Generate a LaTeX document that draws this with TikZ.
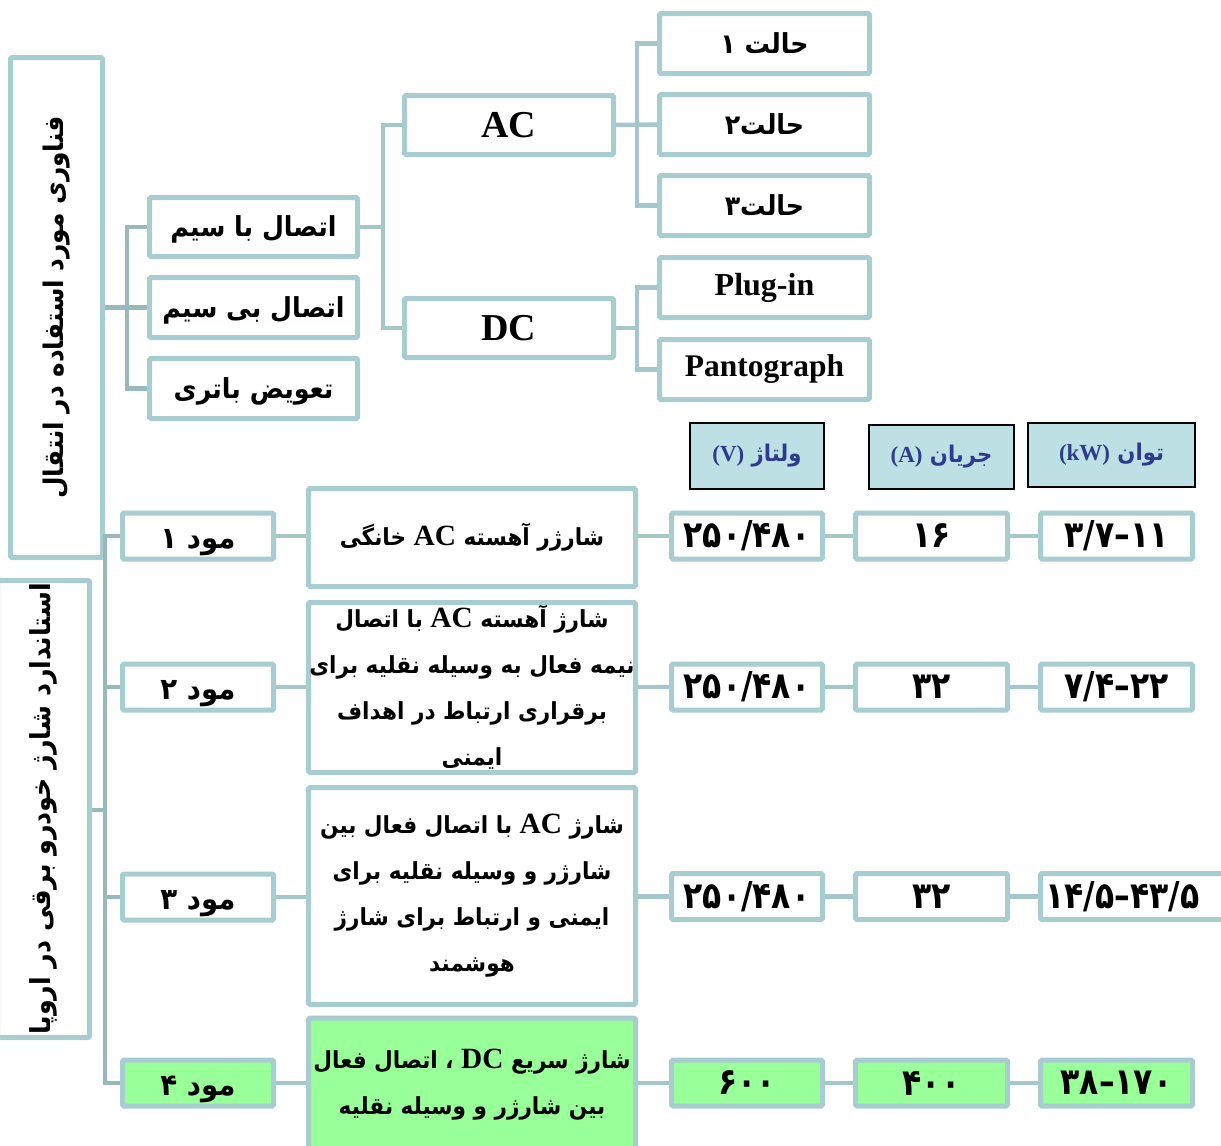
\documentclass[tikz,border=0pt]{standalone}
\usepackage{fontspec}
\setmainfont{Liberation Serif}
\newfontfamily\fa[Script=Arabic,FakeStretch=0.92]{DejaVu Sans}
\newfontfamily\fanum[Script=Arabic,FakeStretch=0.85]{DejaVu Sans}
\newfontfamily\latbig[Scale=1.25]{Liberation Serif}
\TeXXeTstate=1
% right-to-left Persian line, Latin runs inside
\newcommand\rl[1]{{\fa\bfseries\beginR #1\endR}}
\newcommand\lat[1]{{\rmfamily\bfseries #1}}
\newcommand\latb[1]{{\latbig\bfseries #1}}
\definecolor{boxc}{HTML}{A8CDD1}
\definecolor{linec}{HTML}{A3C7CB}
\definecolor{trunkc}{HTML}{98B8BC}
\definecolor{headfill}{HTML}{BCE0E4}
\definecolor{headtext}{HTML}{2E3A8E}
\definecolor{greenfill}{HTML}{99FF99}
\tikzset{
  box/.style={draw=boxc, line width=5pt, fill=white, rounded corners=1.5pt,
    inner sep=0pt, align=center, text=black},
  gbox/.style={box, fill=greenfill},
  head/.style={draw=black, line width=1.8pt, fill=headfill, inner sep=0pt,
    align=center, text=headtext, font=\fontsize{23}{28}\selectfont},
  conn/.style={draw=linec, line width=4.5pt},
  trunk/.style={draw=trunkc, line width=4.5pt},
  fsmall/.style={font=\fontsize{27.5}{32}\selectfont, text height=22pt, text depth=3pt},
  fmode/.style={font=\fontsize{30}{34}\selectfont, text height=25pt, text depth=1pt},
  desc/.style={font=\fontsize{23.5}{46}\selectfont},
  val/.style={box, minimum height=46pt, font=\fanum\bfseries\fontsize{37}{40}\selectfont},
}
\begin{document}
\begin{tikzpicture}[x=1pt,y=-1pt]
\useasboundingbox (0,0) rectangle (1221,1146);

% ---------- charging technology tree ----------
\node[box, minimum width=92pt, minimum height=500pt] (tech) at (56.5,307.5)
  {\rotatebox{90}{\fontsize{27}{30}\selectfont\rl{فناوری مورد استفاده در انتقال}}};

\node[box, fsmall, minimum width=208pt, minimum height=59pt] (wired) at (253.5,227)
  {\rl{اتصال با سیم}};
\node[box, fsmall, minimum width=208pt, minimum height=60pt] (wireless) at (253.5,307.5)
  {\rl{اتصال بی سیم}};
\node[box, fsmall, minimum width=208pt, minimum height=60pt] (swap) at (253.5,388.5)
  {\rl{تعویض باتری}};

\node[box, minimum width=209pt, minimum height=59pt, font=\fontsize{38}{40}\selectfont] (ac) at (509,125)
  {\lat{AC}};
\node[box, minimum width=209pt, minimum height=59pt, font=\fontsize{38}{40}\selectfont] (dc) at (509,328)
  {\lat{DC}};

\node[box, fsmall, minimum width=210pt, minimum height=60pt] (h1) at (764.5,43.5)
  {\rl{حالت ۱}};
\node[box, fsmall, minimum width=210pt, minimum height=60pt] (h2) at (764.5,124.5)
  {\rl{حالت۲}};
\node[box, fsmall, minimum width=210pt, minimum height=60pt] (h3) at (764.5,205.5)
  {\rl{حالت۳}};
\node[box, minimum width=210pt, minimum height=60pt, font=\fontsize{32}{34}\selectfont] (plug) at (764.5,287.5)
  {\lat{Plug-in}};
\node[box, minimum width=210pt, minimum height=60pt, font=\fontsize{31.5}{34}\selectfont] (panto) at (764.5,369.5)
  {\lat{Pantograph}};

\coordinate (j1) at (127,0);
\coordinate (j2) at (383,0);
\coordinate (j3) at (637,0);
\draw[trunk] (tech.east |- wireless.west) -- (wireless.west);
\draw[trunk] (wired.west) -| (j1 |- swap.west) -- (swap.west);
\draw[conn] (wired.east) -- (j2 |- wired.east);
\draw[conn] (ac.west) -| (j2 |- dc.west) -- (dc.west);
\draw[conn] (ac.east) -- (h2.west);
\draw[conn] (h1.west) -| (j3 |- h3.west) -- (h3.west);
\draw[conn] (dc.east) -- (j3 |- dc.east);
\draw[conn] (plug.west) -| (j3 |- panto.west) -- (panto.west);

% ---------- European charging modes ----------
\node[box, minimum width=92pt, minimum height=457pt] (std) at (43.5,809)
  {\rotatebox{90}{\fontsize{27.5}{30}\selectfont\rl{استاندارد شارژ خودرو برقی در اروپا}}};

\node[head, minimum width=134pt, minimum height=66pt] (hv) at (757,456)
  {\rl{ولتاژ \lat{(V)}}};
\node[head, minimum width=145pt, minimum height=64pt] (ha) at (941.5,457)
  {\rl{جریان \lat{(A)}}};
\node[head, minimum width=167pt, minimum height=64pt] (hp) at (1111.5,455)
  {\rl{توان \lat{(kW)}}};

% mode labels
\node[box, fmode, minimum width=151pt, minimum height=46pt] (m1) at (198,536)
  {\rl{مود ۱}};
\node[box, fmode, minimum width=151pt, minimum height=46pt] (m2) at (198,687)
  {\rl{مود ۲}};
\node[box, fmode, minimum width=151pt, minimum height=46pt] (m3) at (198,897)
  {\rl{مود ۳}};
\node[gbox, fmode, minimum width=151pt, minimum height=46pt] (m4) at (198,1083)
  {\rl{مود ۴}};

% descriptions
\node[box, desc, minimum width=327pt, minimum height=98pt] (d1) at (472,537.5)
  {\rl{شارژر آهسته \latb{AC} خانگی}};
\node[box, desc, minimum width=327pt, minimum height=170pt] (d2) at (472,687.5)
  {\rl{شارژ آهسته \latb{AC} با اتصال}\\
   \rl{نیمه فعال به وسیله نقلیه برای}\\
   \rl{برقراری ارتباط در اهداف}\\
   \rl{ایمنی}};
\node[box, desc, minimum width=327pt, minimum height=217pt] (d3) at (472,896)
  {\rl{شارژ \latb{AC} با اتصال فعال بین}\\
   \rl{شارژر و وسیله نقلیه برای}\\
   \rl{ایمنی و ارتباط برای شارژ}\\
   \rl{هوشمند}};
\node[gbox, desc, minimum width=327pt, minimum height=134pt] (d4) at (472,1085)
  {\rl{شارژ سریع \latb{DC} ، اتصال فعال}\\
   \rl{بین شارژر و وسیله نقلیه}};

% values: voltage, current, power
\node[val, minimum width=151pt] (v1) at (747,536) {۲۵۰/۴۸۰};
\node[val, minimum width=152pt] (a1) at (931.5,536) {۱۶};
\node[val, minimum width=152pt] (p1) at (1116.5,536) {۱۱–۳/۷};
\node[val, minimum width=151pt] (v2) at (747,687) {۲۵۰/۴۸۰};
\node[val, minimum width=152pt] (a2) at (931.5,687) {۳۲};
\node[val, minimum width=152pt] (p2) at (1116.5,687) {۲۲–۷/۴};
\node[val, minimum width=151pt] (v3) at (747,896.5) {۲۵۰/۴۸۰};
\node[val, minimum width=152pt] (a3) at (931.5,896.5) {۳۲};
\node[val, minimum width=190pt, text width=180pt, align=left] (p3) at (1135.5,896.5) {۴۳/۵–۱۴/۵};
\node[val, gbox, minimum width=151pt] (v4) at (747,1083) {۶۰۰};
\node[val, gbox, minimum width=152pt] (a4) at (931.5,1083) {۴۰۰};
\node[val, gbox, minimum width=152pt] (p4) at (1116.5,1083) {۱۷۰–۳۸};

\coordinate (j4) at (105,0);
\draw[trunk] (m1.west) -| (j4 |- m4.west) -- (m4.west);
\draw[trunk] (m2.west) -- (j4 |- m2.west);
\draw[trunk] (m3.west) -- (j4 |- m3.west);
\draw[trunk] (std.east |- 0,810) -- (j4 |- 0,810);

\foreach \r in {1,2,3,4}{
  \draw[conn] (m\r.east) -- (d\r.west |- m\r.east);
  \draw[conn] (d\r.east |- v\r.west) -- (v\r.west);
  \draw[conn] (v\r.east) -- (a\r.west);
  \draw[conn] (a\r.east) -- (p\r.west);
}
\end{tikzpicture}
\end{document}
